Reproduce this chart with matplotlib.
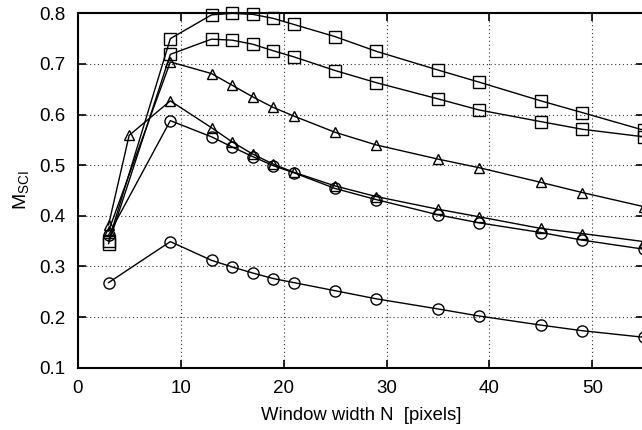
import numpy as np
import matplotlib.pyplot as plt

plt.rcParams['font.family'] = ['Liberation Sans', 'DejaVu Sans']
plt.rcParams['mathtext.default'] = 'regular'

# window widths
n_main = [3, 9, 13, 15, 17, 19, 21, 25, 29, 35, 39, 45, 49, 55]
n_tri2 = [3, 5, 9, 13, 15, 17, 19, 21, 25, 29, 35, 39, 45, 49, 55]

sq1 = [0.350, 0.750, 0.797, 0.800, 0.798, 0.790, 0.778, 0.754, 0.725, 0.688, 0.664, 0.627, 0.604, 0.569]
sq2 = [0.345, 0.719, 0.749, 0.747, 0.739, 0.726, 0.714, 0.687, 0.663, 0.631, 0.609, 0.586, 0.571, 0.556]
tri1 = [0.370, 0.704, 0.681, 0.658, 0.635, 0.614, 0.597, 0.565, 0.540, 0.512, 0.495, 0.466, 0.446, 0.418]
tri2 = [0.382, 0.559, 0.627, 0.574, 0.546, 0.522, 0.502, 0.486, 0.459, 0.438, 0.413, 0.398, 0.375, 0.365, 0.349]
circ1 = [0.362, 0.588, 0.556, 0.536, 0.517, 0.499, 0.485, 0.454, 0.432, 0.402, 0.386, 0.367, 0.352, 0.334]
circ2 = [0.268, 0.349, 0.312, 0.299, 0.287, 0.276, 0.268, 0.252, 0.236, 0.216, 0.202, 0.184, 0.173, 0.160]

fig = plt.figure(figsize=(6.42, 4.30), dpi=100)
ax = fig.add_axes([0.121, 0.145, 0.882, 0.824])

style = dict(color='black', lw=1.0, mfc='none', mec='black', mew=1.0, clip_on=False)
ax.plot(n_main, sq1, marker='s', ms=8, **style)
ax.plot(n_main, sq2, marker='s', ms=8, **style)
ax.plot(n_main, tri1, marker='^', ms=7.5, **style)
ax.plot(n_tri2, tri2, marker='^', ms=7.5, **style)
ax.plot(n_main, circ1, marker='o', ms=8, **style)
ax.plot(n_main, circ2, marker='o', ms=8, **style)

ax.set_xlim(0, 55)
ax.set_ylim(0.1, 0.8)
ax.set_xticks([0, 10, 20, 30, 40, 50])
ax.set_yticks(np.arange(0.1, 0.81, 0.1))
ax.set_yticklabels(['0.1', '0.2', '0.3', '0.4', '0.5', '0.6', '0.7', '0.8'])
ax.tick_params(direction='in', length=6, width=1.2, top=True, right=True, labelsize=13.5, pad=9)
ax.grid(True, color='#333333', linestyle=(0, (1, 2.5)), linewidth=0.8)
for s in ax.spines.values():
    s.set_linewidth(1.5)

ax.set_xlabel('Window width N  [pixels]', fontsize=13.3, labelpad=7)
ax.set_ylabel('M$_{SCI}$', fontsize=14, labelpad=6)

fig.savefig('out.png', dpi=100)
